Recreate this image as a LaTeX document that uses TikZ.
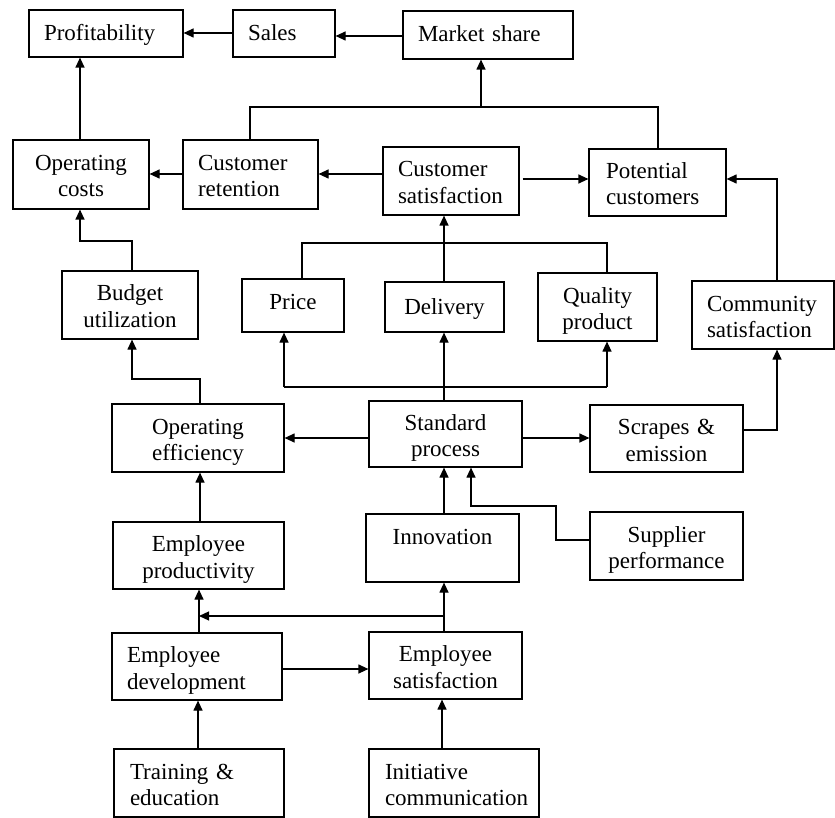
\documentclass[tikz,border=0pt]{standalone}
\usepackage{fontspec}
\setmainfont{Liberation Serif}
\usetikzlibrary{arrows.meta,calc}
\begin{document}
\begin{tikzpicture}[x=1pt,y=-1pt,
  base/.style={draw, line width=1.2pt, inner ysep=0pt, inner xsep=4pt, font=\fontsize{23}{26.5}\selectfont, align=center},
  box/.style={base, execute at begin node={\rule{0pt}{24.5pt}}, execute at end node={\rule[-6pt]{0pt}{0pt}}},
  boxa/.style={base, execute at begin node={\rule{0pt}{20pt}}, execute at end node={\rule[-6pt]{0pt}{0pt}}},
  lbox/.style={box, align=left, inner xsep=15pt},
  lboxa/.style={boxa, align=left, inner xsep=15pt},
  ln/.style={line width=1.2pt},
  arr/.style={ln, -{Triangle[length=10pt,width=9pt]}}]
\useasboundingbox (0,0) rectangle (835,818);
% boxes
\node[lboxa, minimum width=154pt, minimum height=47pt, text width=124pt] (prof) at (106,33.5) {Profitability};
\node[lboxa, minimum width=102pt, minimum height=47pt, text width=72pt] (sales) at (284,33.5) {Sales};
\node[lboxa, minimum width=170pt, minimum height=48pt, text width=140pt] (mkt) at (488,35) {Market share};
\node[box, minimum width=136pt, minimum height=69pt, text width=128pt] (oc) at (81,174.5) {Operating\\costs};
\node[lbox, minimum width=135pt, minimum height=69pt, text width=105pt] (cr) at (250.5,174.5) {Customer\\retention};
\node[lbox, minimum width=136pt, minimum height=68pt, text width=106pt] (cs) at (451,181) {Customer\\satisfaction};
\node[lbox, minimum width=137pt, minimum height=67pt, text width=103pt, inner xsep=17pt] (pc) at (657.5,182.5) {Potential\\customers};
\node[box, minimum width=136pt, minimum height=68pt, text width=128pt] (bu) at (130,305) {Budget\\utilization};
\node[boxa, minimum width=102pt, minimum height=53pt, text width=94pt] (price) at (293,305.5) {\raisebox{3.5pt}{Price}};
\node[boxa, minimum width=119pt, minimum height=50pt, text width=111pt] (del) at (444.5,307) {Delivery};
\node[box, minimum width=119pt, minimum height=68pt, text width=111pt] (qual) at (597.5,307) {Quality\\product};
\node[lbox, minimum width=142pt, minimum height=68pt, text width=112pt] (com) at (763,315) {Community\\satisfaction};
\node[box, minimum width=172pt, minimum height=68pt, text width=164pt] (oe) at (198,438) {Operating\\efficiency};
\node[box, minimum width=153pt, minimum height=66pt, text width=145pt] (sp) at (445.5,434) {Standard\\process};
\node[box, minimum width=153pt, minimum height=67pt, text width=145pt] (scr) at (666.5,438.5) {Scrapes \&\\emission};
\node[box, minimum width=153pt, minimum height=68pt, text width=145pt] (inn) at (442.5,548) {Innovation\\\mbox{}};
\node[box, minimum width=153pt, minimum height=68pt, text width=145pt] (sup) at (666.5,546) {Supplier\\performance};
\node[box, minimum width=171pt, minimum height=67pt, text width=163pt] (ep) at (198.5,555.5) {Employee\\productivity};
\node[lbox, minimum width=170pt, minimum height=67pt, text width=140pt] (ed) at (197,666.5) {Employee\\development};
\node[box, minimum width=153pt, minimum height=67pt, text width=145pt] (es) at (445.5,665.5) {Employee\\satisfaction};
\node[lbox, minimum width=170pt, minimum height=68pt, text width=138pt, inner xsep=16pt] (tr) at (199,783) {Training \&\\education};
\node[lbox, minimum width=170pt, minimum height=68pt, text width=138pt, inner xsep=16pt] (ini) at (454,783) {Initiative\\communication};
% junction coordinates
\coordinate (jtop) at (481,107);
\coordinate (jcs) at (444,243);
\coordinate (bu1) at (132,241);
\coordinate (bu2) at (80,241);
\coordinate (oe1) at (200,379);
\coordinate (oe2) at (132,379);
\coordinate (sp1) at (284,387);
\coordinate (sp2) at (607,387);
\coordinate (su1) at (556,540);
\coordinate (su2) at (556,506);
\coordinate (su3) at (471,506);
\coordinate (es1) at (444,616);
\coordinate (es2) at (199,616);
% connectors
\draw[arr] (sales.west |- 0,33) -- (prof.east |- 0,33);
\draw[arr] (mkt.west |- 0,36) -- (sales.east |- 0,36);
\draw[arr] (oc.north -| 80,0) -- (prof.south -| 80,0);
\draw[ln] (cr.north -| 250,0) |- (jtop) -| (pc.north -| 658,0);
\draw[arr] (jtop) -- (mkt.south -| jtop);
\draw[arr] (cr.west |- 0,174) -- (oc.east |- 0,174);
\draw[arr] (cs.west |- 0,174) -- (cr.east |- 0,174);
\draw[arr] ([xshift=3pt]cs.east |- 0,179) -- (pc.west |- 0,179);
\draw[arr] (com.north -| 777,0) |- (pc.east |- 0,179);
\draw[ln] (price.north -| 302,0) |- (jcs) -| (qual.north -| 607,0);
\draw[arr] (del.north -| jcs) -- (cs.south -| jcs);
\draw[arr] (bu.north -| bu1) -- (bu1) -- (bu2) -- (oc.south -| bu2);
\draw[arr] (oe.north -| oe1) -- (oe1) -- (oe2) -- (bu.south -| oe2);
\draw[arr] (sp.west |- 0,438) -- (oe.east |- 0,438);
\draw[arr] (sp.east |- 0,438) -- (scr.west |- 0,438);
\draw[arr] (sp.north -| 444,0) -- (del.south -| 444,0);
\draw[ln] (sp1) -- (sp2);
\draw[arr] (sp1) -- (price.south -| sp1);
\draw[arr] (sp2) -- (qual.south -| sp2);
\draw[arr] (scr.east |- 0,430) -| (com.south -| 777,0);
\draw[arr] (inn.north -| 444,0) -- (sp.south -| 444,0);
\draw[arr] (sup.west |- su1) -- (su1) -- (su2) -- (su3) -- (sp.south -| su3);
\draw[arr] (ep.north -| 200,0) -- (oe.south -| 200,0);
\draw[arr] (ed.north -| 199,0) -- (ep.south -| 199,0);
\draw[arr] (es.north -| 444,0) -- (inn.south -| 444,0);
\draw[arr] (es1) -- (es2);
\draw[arr] (ed.east |- 0,669) -- (es.west |- 0,669);
\draw[arr] (tr.north -| 198,0) -- (ed.south -| 198,0);
\draw[arr] (ini.north -| 442,0) -- (es.south -| 442,0);
\end{tikzpicture}
\end{document}
